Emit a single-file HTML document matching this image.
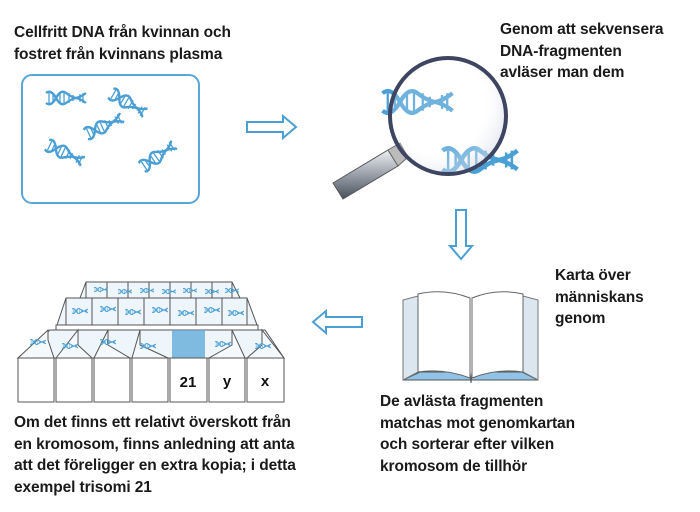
<!DOCTYPE html>
<html><head><meta charset="utf-8"><style>
body{margin:0;width:700px;height:512px;background:#fff;overflow:hidden;position:relative;font-family:"Liberation Sans",sans-serif}
.t{position:absolute;font-size:15.5px;font-weight:bold;line-height:21.5px;color:#1a1a1a;letter-spacing:-0.1px;white-space:nowrap}
svg{position:absolute;left:0;top:0}
</style></head><body>
<svg width="700" height="512" viewBox="0 0 700 512">
<defs>
<symbol id="h" viewBox="0 0 40 16">
<path d="M0 3 Q5 -1 10 8 T20 13 T30 8 T40 3" fill="none" stroke="#4a9fd5" stroke-width="2.4"/>
<path d="M0 13 Q5 17 10 8 T20 3 T30 8 T40 13" fill="none" stroke="#4a9fd5" stroke-width="2.4"/>
<g stroke="#4a9fd5" stroke-width="1.3"><line x1="3" y1="3" x2="3" y2="13"/><line x1="7" y1="5" x2="7" y2="11"/><line x1="14" y1="4" x2="14" y2="12"/><line x1="18" y1="3" x2="18" y2="13"/><line x1="23" y1="3" x2="23" y2="13"/><line x1="27" y1="5" x2="27" y2="11"/><line x1="34" y1="4" x2="34" y2="12"/><line x1="37" y1="3" x2="37" y2="13"/></g>
</symbol>
<linearGradient id="hg" x1="0" y1="0" x2="0" y2="1"><stop offset="0" stop-color="#eef0f4"/><stop offset="0.5" stop-color="#9aa0aa"/><stop offset="1" stop-color="#4a505a"/></linearGradient>
<radialGradient id="lg" cx="0.4" cy="0.4" r="0.7"><stop offset="0.6" stop-color="#fff" stop-opacity="0.2"/><stop offset="1" stop-color="#c8cde0" stop-opacity="0.7"/></radialGradient>
</defs>
<rect x="22" y="75" width="177" height="128" rx="10" fill="#fff" stroke="#5aa6d8" stroke-width="2"/>
<use href="#h" x="45" y="90" width="42" height="16"/>
<use href="#h" x="108" y="95" width="40" height="16" transform="rotate(30 128 103)"/>
<use href="#h" x="83" y="118" width="42" height="16" transform="rotate(-25 104 126)"/>
<use href="#h" x="45" y="145" width="40" height="16" transform="rotate(25 65 153)"/>
<use href="#h" x="138" y="148" width="40" height="16" transform="rotate(-35 158 156)"/>
<g fill="#fff" stroke="#4a9fd5" stroke-width="2">
<path d="M247 122 H283 V116 L296 127 L283 138 V132 H247 Z"/>
<path d="M456 210 V246 H450 L461 259 L472 246 H466 V210 Z"/>
<path d="M362 317 H326 V311 L313 322 L326 333 V327 H362 Z"/>
</g>
<use href="#h" x="380" y="88" width="75" height="28"/>
<use href="#h" x="440" y="145" width="80" height="30"/>
<path d="M333 183 L388 150 L398 166 L343 199 Z" fill="url(#hg)" stroke="#555" stroke-width="1"/>
<path d="M388 150 L400 143 L408 157 L398 166 Z" fill="#bbb" stroke="#666"/>
<circle cx="448" cy="116" r="58" fill="url(#lg)" stroke="#3d4560" stroke-width="4"/>
<path d="M403 380 L420 372 H470 L471 383 L472 372 H522 L538 380 Z" fill="#8fc4e6" stroke="#555" stroke-width="1"/>
<path d="M403 380 V300 L418 296 V372 Z M538 380 V300 L523 296 V372 Z" fill="#dce6ee" stroke="#777"/>
<path d="M418 372 V294 Q444 288 470 298 V378 Q444 368 418 372 Z" fill="#fff" stroke="#666"/>
<path d="M523 372 V294 Q497 288 472 298 V378 Q497 368 523 372 Z" fill="#fff" stroke="#666"/>
<g stroke="#555" stroke-width="1" fill="#fff">
<path d="M80 298 L86 282 H232 L240 298 Z" fill="#eef5fb"/>
<path d="M86 282 V298 M107 282 V298 M128 282 V298 M149 282 V298 M170 282 V298 M191 282 V298 M212 282 V298 M232 282 V298" fill="none"/>
<path d="M57 325 L66 298 H247 L257 325 Z" fill="#eef5fb"/>
<path d="M66 298 V325 M92 298 V325 M118 298 V325 M144 298 V325 M170 298 V325 M196 298 V325 M222 298 V325 M247 298 V325" fill="none"/>
<path d="M56 325 H258 V330 H56Z"/>
</g>
<g>
<use href="#h" x="94" y="286" width="14" height="7"/><use href="#h" x="118" y="288" width="14" height="7"/><use href="#h" x="140" y="287" width="14" height="7"/><use href="#h" x="162" y="288" width="14" height="7"/><use href="#h" x="183" y="287" width="14" height="7"/><use href="#h" x="205" y="288" width="14" height="7"/><use href="#h" x="225" y="287" width="14" height="7"/>
<use href="#h" x="72" y="307" width="16" height="8"/><use href="#h" x="100" y="305" width="16" height="8"/><use href="#h" x="125" y="308" width="16" height="8"/><use href="#h" x="152" y="306" width="16" height="8"/><use href="#h" x="178" y="309" width="16" height="8"/><use href="#h" x="204" y="306" width="16" height="8"/><use href="#h" x="228" y="309" width="16" height="8"/>
</g>
<g stroke="#555" stroke-width="1">
<path d="M50 330 H265 L284 358 H18 Z" fill="#eef5fb"/>
<rect x="172" y="330" width="33" height="28" fill="#5aa6d8" opacity="0.75" stroke="none"/>
<g fill="#fff">
<rect x="18" y="358" width="36" height="44"/><path d="M18 358 L48 330 V340 L54 358Z" fill="#f6f9fc"/>
<rect x="56" y="358" width="36" height="44"/><path d="M56 358 L78 330 V345 L92 358Z" fill="#f6f9fc"/>
<rect x="94" y="358" width="36" height="44"/><path d="M94 358 L108 330 V345 L130 358Z" fill="#f6f9fc"/>
<rect x="132" y="358" width="36" height="44"/><path d="M132 358 L140 330 V345 L168 358Z" fill="#f6f9fc"/>
<rect x="170" y="358" width="37" height="44"/>
<rect x="209" y="358" width="36" height="44"/><path d="M245 358 L232 330 V345 L209 358Z" fill="#f6f9fc"/>
<rect x="247" y="358" width="37" height="44"/><path d="M284 358 L262 330 V345 L247 358Z" fill="#f6f9fc"/>
</g>
</g>
<g>
<use href="#h" x="30" y="338" width="16" height="8"/><use href="#h" x="62" y="342" width="16" height="8"/><use href="#h" x="100" y="338" width="16" height="8"/><use href="#h" x="140" y="342" width="16" height="8"/><use href="#h" x="215" y="340" width="16" height="8"/><use href="#h" x="255" y="342" width="16" height="8"/>
</g>
<g font-family="Liberation Sans,sans-serif" font-weight="bold" font-size="15" fill="#111" text-anchor="middle">
<text x="188" y="387">21</text><text x="227" y="386">y</text><text x="265" y="386">x</text>
</g>
</svg>
<div class="t" style="left:14px;top:22px">Cellfritt DNA från kvinnan och<br>fostret från kvinnans plasma</div>
<div class="t" style="left:500px;top:19px">Genom att sekvensera<br>DNA-fragmenten<br>avläser man dem</div>
<div class="t" style="left:555px;top:265px">Karta över<br>människans<br>genom</div>
<div class="t" style="left:380px;top:391px">De avlästa fragmenten<br>matchas mot genomkartan<br>och sorterar efter vilken<br>kromosom de tillhör</div>
<div class="t" style="left:14px;top:412px">Om det finns ett relativt överskott från<br>en kromosom, finns anledning att anta<br>att det föreligger en extra kopia; i detta<br>exempel trisomi 21</div>
</body></html>
